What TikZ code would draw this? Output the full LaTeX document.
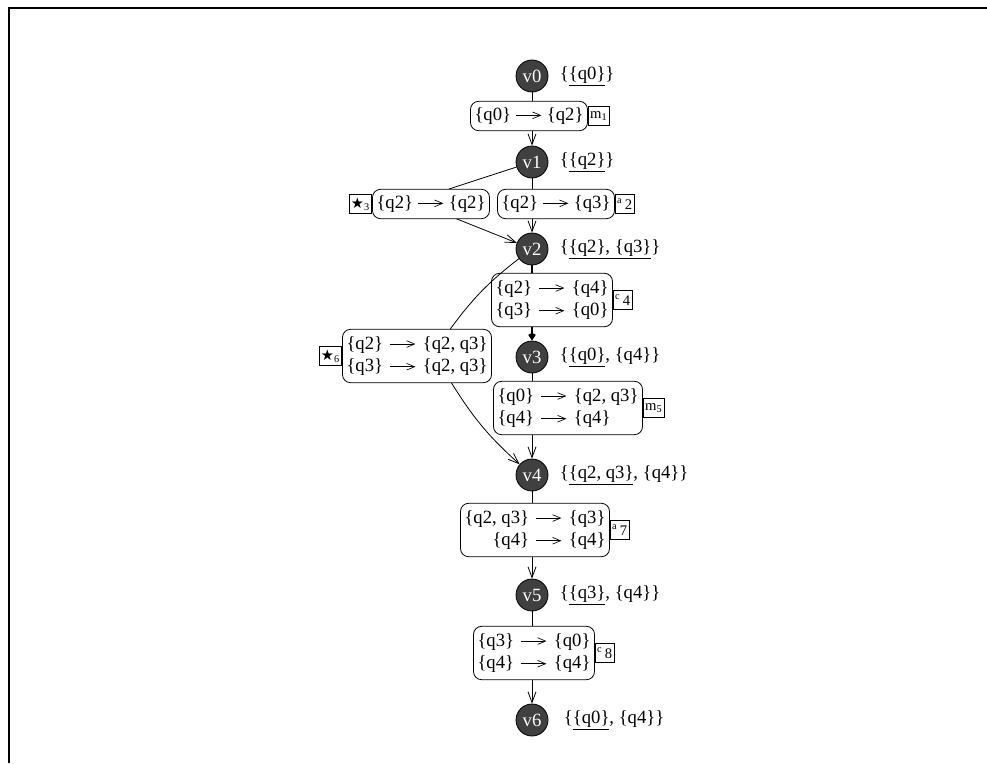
\documentclass[tikz,border=0pt]{standalone}
\usepackage{fontspec}
\setmainfont{Liberation Serif}
\newfontfamily\symfont{DejaVu Sans}
\usetikzlibrary{arrows.meta, positioning, calc}
\definecolor{StateGray}{rgb}{0.25, 0.25, 0.25}

% arrow inside a rule
\newcommand{\smap}{\tikz[baseline=-0.6ex] \draw [-{Straight Barb[length=6pt, width=5pt]}, line width=0.5pt] (0pt,0pt) -- (19pt,0pt);}
\newcommand{\ruletab}[1]{\begin{tabular}{@{}r@{\hspace{5pt}}c@{\hspace{5pt}}l@{}}#1\end{tabular}}

\begin{document}
\begin{tikzpicture}[>={Straight Barb[length=8pt, width=6pt]}, x=0.75pt, y=-0.75pt, line width=0.6pt,
        every node/.style={font=\fontsize{14}{17}\selectfont},
        state/.style={circle, draw, fill=StateGray, text=white, minimum size=24pt, inner sep=0pt},
        rulebox/.style={draw, rounded corners=6pt, inner sep=3pt, minimum height=22pt},
        rulename/.style={draw, rectangle, inner sep=1.5pt, minimum height=14pt, font=\fontsize{11}{12}\selectfont},
        setlabel/.style={anchor=west}]
        \useasboundingbox (0,0) rectangle (987,763);

        % Frame
        \draw [line width=1.5pt] (9,763) -- (9,8) -- (987,8);

        % States
        \node [state] (v0) at (532,76) {v0};
        \node [state] (v1) at (532,162) {v1};
        \node [state] (v2) at (532,249) {v2};
        \node [state] (v3) at (532,357) {v3};
        \node [state] (v4) at (532,475) {v4};
        \node [state] (v5) at (532,595) {v5};
        \node [state] (v6) at (532,720) {v6};

        % Sets next to the states
        \node [setlabel, right=5pt of v0] {\{\underline{\{q0\}}\}};
        \node [setlabel, right=5pt of v1] {\{\underline{\{q2\}}\}};
        \node [setlabel, right=5pt of v2] {\{\underline{\{q2\}, \{q3\}}\}};
        \node [setlabel, right=5pt of v3] {\{\underline{\{q0\}}, \{q4\}\}};
        \node [setlabel, right=5pt of v4] {\{\underline{\{q2, q3\}}, \{q4\}\}};
        \node [setlabel, right=5pt of v5] {\{\underline{\{q3\}}, \{q4\}\}};
        \node [setlabel, right=8pt of v6] {\{\underline{\{q0\}}, \{q4\}\}};

        % Rules
        \node [rulebox] (m1) at (529,116) {\{q0\} \smap{} \{q2\}};
        \node [rulebox] (a2) at (556,204) {\{q2\} \smap{} \{q3\}};
        \node [rulebox] (s3) at (431,204) {\{q2\} \smap{} \{q2\}};
        \node [rulebox] (c4) at (552,300) {\ruletab{\{q2\} & \smap & \{q4\}\\ \{q3\} & \smap & \{q0\}}};
        \node [rulebox] (s6) at (417,356) {\ruletab{\{q2\} & \smap & \{q2, q3\}\\ \{q3\} & \smap & \{q2, q3\}}};
        \node [rulebox] (m5) at (568,408) {\ruletab{\{q0\} & \smap & \{q2, q3\}\\ \{q4\} & \smap & \{q4\}}};
        \node [rulebox] (a7) at (535,530) {\ruletab{\{q2, q3\} & \smap & \{q3\}\\ \{q4\} & \smap & \{q4\}}};
        \node [rulebox] (c8) at (534,653) {\ruletab{\{q3\} & \smap & \{q0\}\\ \{q4\} & \smap & \{q4\}}};

        % Rule names
        \node [rulename, right=0pt of m1] {m\textsubscript{1}};
        \node [rulename, right=0pt of a2] {\textsuperscript{a}\,2};
        \node [rulename, left=0pt of s3] {{\symfont ★}\textsubscript{3}};
        \node [rulename, right=0pt of c4] {\textsuperscript{c}\,4};
        \node [rulename, right=0pt of m5] {m\textsubscript{5}};
        \node [rulename, left=0pt of s6] {{\symfont ★}\textsubscript{6}};
        \node [rulename, right=0pt of a7] {\textsuperscript{a}\,7};
        \node [rulename, right=0pt of c8] {\textsuperscript{c}\,8};

        % Main chain
        \draw (v0) -- (v0 |- m1.north);
        \draw [->] (v0 |- m1.south) -- (v1);
        \draw (v1) -- (v1 |- a2.north);
        \draw [->] (v1 |- a2.south) -- (v2);
        \draw [line width=2pt] (v2) -- (v2 |- c4.north);
        \draw [-{Straight Barb[length=3pt, width=4pt]}, line width=2pt] (v2 |- c4.south) -- (v3);
        \draw (v3) -- (v3 |- m5.north);
        \draw [->] (v3 |- m5.south) -- (v4);
        \draw (v4) -- (v4 |- a7.north);
        \draw [->] (v4 |- a7.south) -- (v5);
        \draw (v5) -- (v5 |- c8.north);
        \draw [->] (v5 |- c8.south) -- (v6);

        % Side branches
        \draw (v1) -- (s3.40);
        \draw [->] (s3.-30) -- (v2);
        \draw (v2) to[bend right=8] (s6.39);
        \draw [->] (s6.-38) to[bend right=8] (v4);
\end{tikzpicture}
\end{document}
